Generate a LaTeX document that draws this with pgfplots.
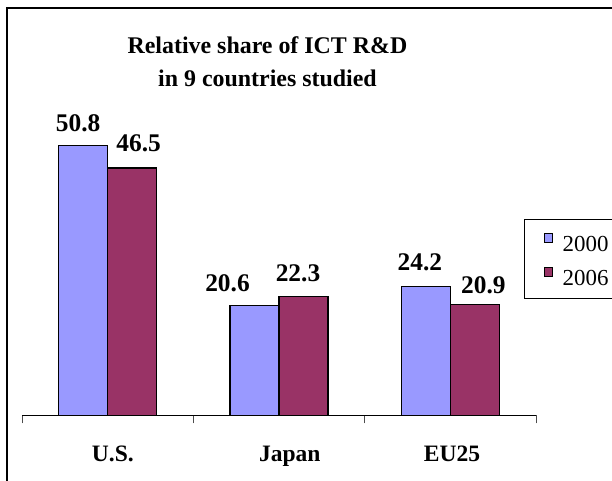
\documentclass[border=0pt]{standalone}
\usepackage{fontspec}
\setmainfont{Liberation Serif}
\usepackage{pgfplots}
\usepackage{pgfplotstable}
\pgfplotsset{compat=1.18}
\definecolor{c2000}{HTML}{9999FF}
\definecolor{c2006}{HTML}{993366}

% x: category index, dx/dy: label offset (bp)
\pgfplotstableread{
x y dx dy lab
0 50.8 -5 13.3 50.8
1 20.6 -27 14 20.6
2 24.2 -6 15.7 24.2
}\yrA
\pgfplotstableread{
x y dx dy lab
0 46.5 6.5 16.7 46.5
1 22.3 -5.5 15.7 22.3
2 20.9 8.5 11 20.9
}\yrB

\begin{document}
\begin{tikzpicture}[x=1bp,y=1bp]
\useasboundingbox (0,0) rectangle (612,481);
\draw[line width=2bp] (7.3,-10) -- (7.3,472.7) -- (630,472.7);
\begin{axis}[
  at={(22bp,65.7bp)}, anchor=south west,
  scale only axis, width=514bp, height=319bp,
  xmin=-0.5, xmax=2.5, ymin=0, ymax=60,
  clip=false,
  ybar=0pt, bar width=49bp,
  hide y axis,
  axis x line*=bottom,
  axis line style={line width=1bp},
  xtick={0.03,1.063,2.01}, xticklabels={U.S.,Japan,EU25},
  major tick length=0pt,
  minor xtick={-0.5,0.5,1.5,2.5},
  minor tick length=8bp,
  tick align=outside,
  minor tick style={line width=1bp, black!70},
  xticklabel style={font=\fontsize{23.6}{28}\selectfont\bfseries, anchor=base, yshift=-46bp},
  title={Relative share of ICT R\&D\\in 9 countries studied},
  title style={at={(0.4776,1.1685)}, anchor=north, align=center, inner sep=0pt,
    font=\fontsize{24}{33}\selectfont\bfseries},
  nodes near coords, point meta=explicit symbolic,
  visualization depends on={\thisrow{dx} \as \dx},
  visualization depends on={\thisrow{dy} \as \dy},
  nodes near coords style={anchor=base, xshift={\dx*1bp}, yshift={\dy*1bp}, inner sep=0pt,
    font=\fontsize{25.5}{30}\selectfont\bfseries, text=black},
  legend style={at={(0.9767,0.6138)}, anchor=north west, draw=black, line width=1bp,
    font=\fontsize{23}{27}\selectfont, inner xsep=19bp, inner ysep=13bp,
    nodes={inner sep=0pt, text width=55bp, text height=9bp, text depth=0pt},
    row sep=16bp, column sep=10bp},
  legend image code/.code={\draw[#1, draw=black, line width=1.2bp] (0bp,4bp) rectangle (8bp,13bp);},
]
\addplot[fill=c2000, draw=black, line width=1.2bp] table[x=x, y=y, meta=lab] {\yrA};
\addplot[fill=c2006, draw=black, line width=1.2bp] table[x=x, y=y, meta=lab] {\yrB};
\legend{2000,2006}
\end{axis}
\end{tikzpicture}
\end{document}
